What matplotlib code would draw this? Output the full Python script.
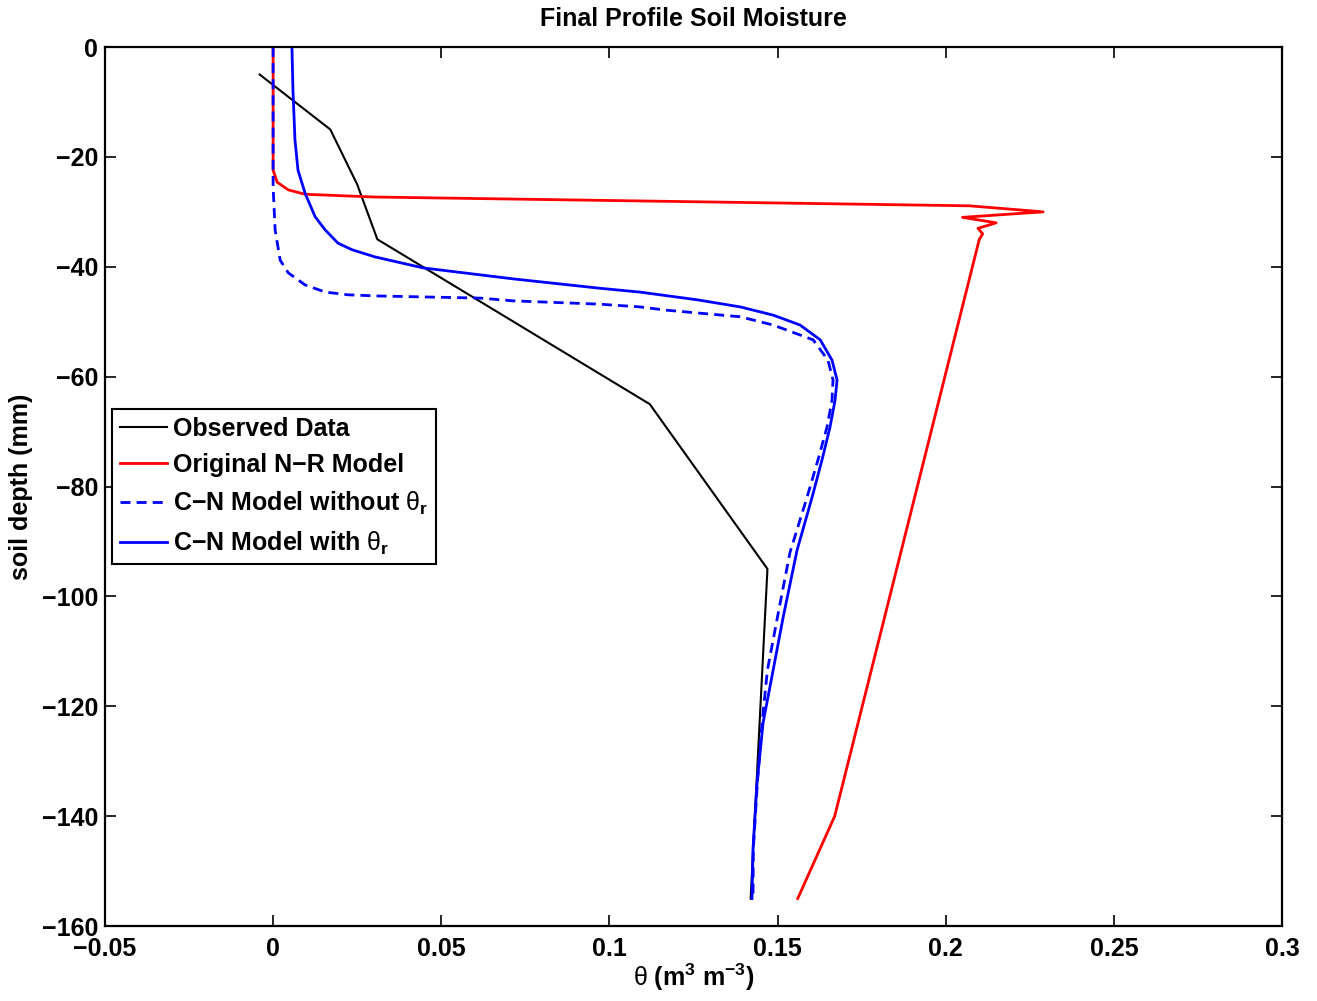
import matplotlib
matplotlib.use('Agg')
import matplotlib.pyplot as plt
from matplotlib.ticker import FuncFormatter

# observed profile
obs_depth = [-5, -15, -25, -35, -65, -95, -155]
obs_theta = [-0.004, 0.017, 0.025, 0.031, 0.112, 0.147, 0.142]

# original N-R model
nr_depth = [0, -22.4, -24.6, -26.0, -26.8, -27.3, -28.9, -30.0, -31.0, -32.0, -33.0, -34.0, -35.0, -140, -155]
nr_theta = [0, 0, 0.0012, 0.0045, 0.0095, 0.0303, 0.207, 0.229, 0.205, 0.215, 0.2096, 0.211, 0.210, 0.167, 0.156]

# C-N model without theta_r
cn0_depth = [0, -25.5, -33.3, -38.8, -41.1, -43.3, -44.6, -45.1, -45.3, -45.7, -46.2, -46.8, -47.3, -47.9,
             -49.1, -50.6, -53.3, -57.0, -60.6, -64.3, -69.2, -75.2, -81.9, -92, -103.7, -113.4, -123, -134,
             -146, -155]
cn0_theta = [0, 0, 0.0006, 0.0021, 0.0045, 0.0095, 0.0155, 0.0223, 0.0303, 0.0616, 0.0714, 0.097, 0.109, 0.117,
             0.1389, 0.1487, 0.1606, 0.165, 0.1665, 0.1662, 0.1647, 0.162, 0.1588, 0.1537, 0.150, 0.147, 0.1454, 0.144,
             0.1428, 0.1427]

# C-N model with theta_r
cn1_depth = [0, -7.8, -16.9, -22.4, -26.6, -30.9, -33.3, -35.7, -36.9, -38.2, -40.2, -42.2, -43.9, -44.6, -46.0,
             -47.3, -48.8, -50.6, -53.3, -57.0, -60.6, -64.3, -69.2, -75.2, -81.9, -91.6, -103.7, -113.4, -123,
             -134, -146, -155]
cn1_theta = [0.0056, 0.0059, 0.0065, 0.0074, 0.0095, 0.0125, 0.0155, 0.0193, 0.0235, 0.0303, 0.0446, 0.0714, 0.097,
             0.109, 0.126, 0.1389, 0.1487, 0.1567, 0.1627, 0.1662, 0.1677, 0.1671, 0.1656, 0.1632, 0.1603, 0.1558,
             0.1517, 0.1487, 0.1457, 0.1439, 0.1427, 0.1424]

xticks = [-0.05, 0, 0.05, 0.1, 0.15, 0.2, 0.25, 0.3]
yticks = [0, -20, -40, -60, -80, -100, -120, -140, -160]

plt.rcParams['font.family'] = ['Liberation Sans', 'DejaVu Sans']
plt.rcParams['font.weight'] = 'bold'
plt.rcParams['font.size'] = 18
plt.rcParams['axes.labelweight'] = 'bold'
plt.rcParams['mathtext.fontset'] = 'custom'
plt.rcParams['mathtext.rm'] = 'Liberation Sans:weight=bold'
plt.rcParams['mathtext.bf'] = 'Liberation Sans:weight=bold'
plt.rcParams['mathtext.it'] = 'Liberation Sans:weight=normal:style=normal'

fig = plt.figure(figsize=(13.17, 10.01), dpi=100)
ax = fig.add_axes([0.0797, 0.0749, 0.8937, 0.8781])

ax.plot(obs_theta, obs_depth, color='black', lw=1.5, label='Observed Data')
ax.plot(nr_theta, nr_depth, color='red', lw=2, label='Original N\u2212R Model')
ax.plot(cn0_theta, cn0_depth, color='blue', lw=2, linestyle=(0, (3.6, 2.2)),
        label='C\u2212N Model without $\\theta_\\mathbf{r}$')
ax.plot(cn1_theta, cn1_depth, color='blue', lw=2, label='C\u2212N Model with $\\theta_\\mathbf{r}$')

ax.set_xlim(-0.05, 0.3)
ax.set_ylim(-160, 0)
ax.set_xticks(xticks)
ax.set_yticks(yticks)
fmt = FuncFormatter(lambda v, p: ('%g' % v).replace('-', '\u2212'))
ax.xaxis.set_major_formatter(fmt)
ax.yaxis.set_major_formatter(fmt)
ax.tick_params(direction='in', length=7.7, width=1.2, top=True, right=True, labelsize=18)
ax.tick_params(axis='x', pad=8)
ax.tick_params(axis='y', pad=5)
for s in ax.spines.values():
    s.set_linewidth(1.6)

ax.set_title('Final Profile Soil Moisture', fontsize=18, fontweight='bold', pad=15)
ax.set_xlabel('$\\theta$ (m$^{3}$ m$^{-3}$)', fontsize=18, fontweight='bold', labelpad=0)
ax.set_ylabel('soil depth (mm)', fontsize=18, fontweight='bold', labelpad=6)

leg = ax.legend(loc='upper left', bbox_to_anchor=(0.006, 0.588), borderaxespad=0,
                fancybox=False, framealpha=1, edgecolor='black', fontsize=18,
                handlelength=1.9, handletextpad=0.25, labelspacing=0.5, borderpad=0.3)
leg.get_frame().set_linewidth(1.5)

fig.savefig('out.png', dpi=100)
